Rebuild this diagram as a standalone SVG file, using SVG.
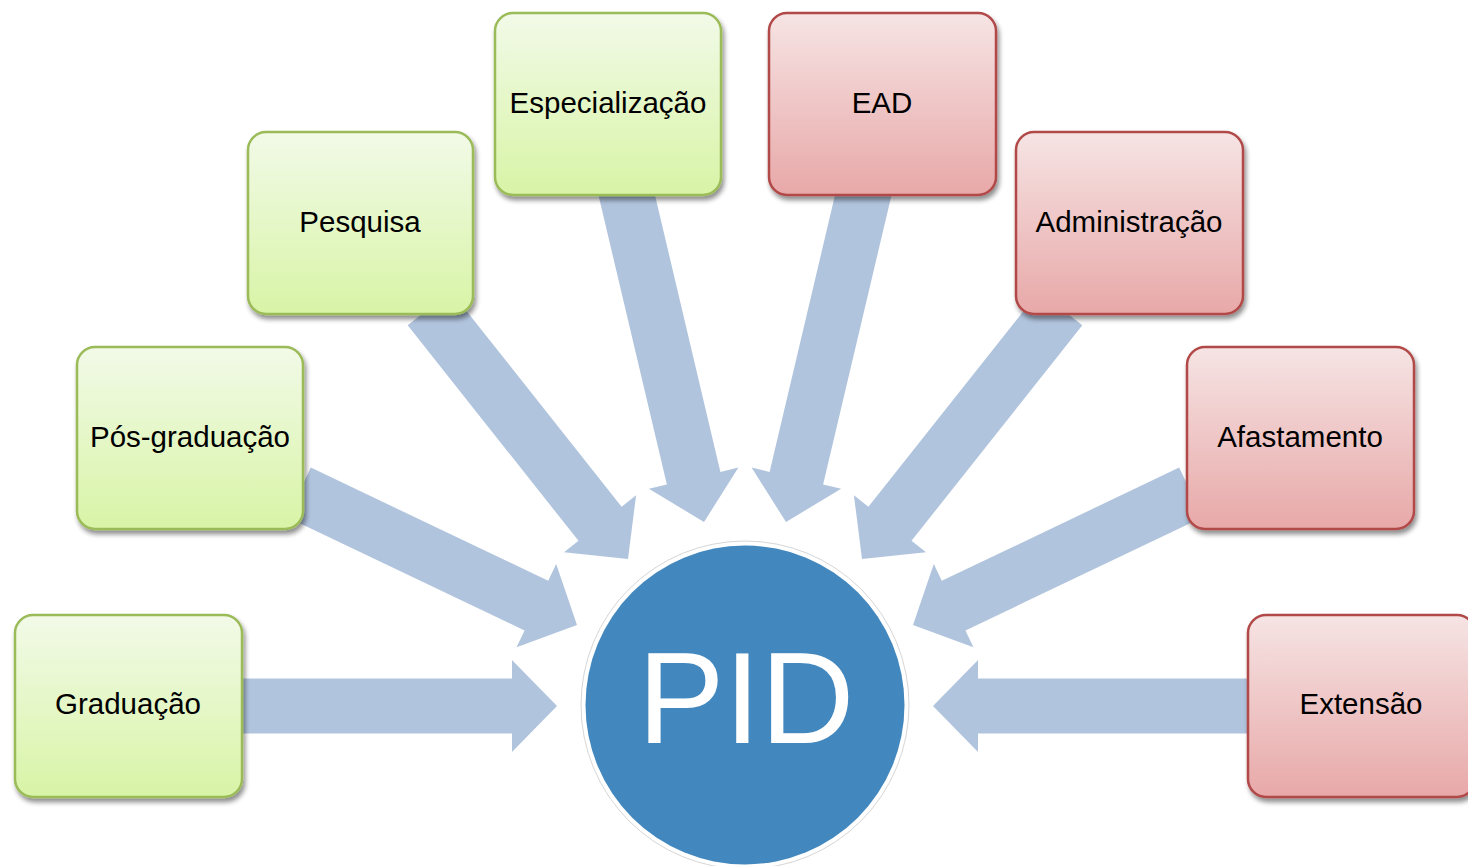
<svg xmlns="http://www.w3.org/2000/svg" width="1468" height="866" viewBox="0 0 1468 866">
<defs>
<linearGradient id="gG" x1="0" y1="0" x2="0" y2="1"><stop offset="0" stop-color="#F2FAE8"/><stop offset="1" stop-color="#D8F4A6"/></linearGradient>
<linearGradient id="gR" x1="0" y1="0" x2="0" y2="1"><stop offset="0" stop-color="#F6E4E4"/><stop offset="1" stop-color="#E8A8A8"/></linearGradient>
<filter id="sh" x="-10%" y="-10%" width="125%" height="125%"><feGaussianBlur in="SourceAlpha" stdDeviation="2.5"/><feOffset dx="2" dy="4" result="b"/><feComponentTransfer><feFuncA type="linear" slope="0.45"/></feComponentTransfer><feMerge><feMergeNode/><feMergeNode in="SourceGraphic"/></feMerge></filter>
<style>
.arr{fill:#B1C4DD}
.g{fill:url(#gG);stroke:#9BBB59;stroke-width:2.5}
.r{fill:url(#gR);stroke:#B24A4A;stroke-width:2.5}
.t{font-family:"Liberation Sans",Arial,sans-serif;font-size:29.5px;fill:#000;text-anchor:middle}
</style>
</defs>
<rect width="1468" height="866" fill="#fff"/>
<g id="connectors">
<polygon class="arr" transform="translate(557,706) rotate(0)" points="-320,-27.5 -45,-27.5 -45,-46 0,0 -45,46 -45,27.5 -320,27.5"/>
<polygon class="arr" transform="translate(577,625) rotate(25.5)" points="-308,-27.5 -45,-27.5 -45,-46 0,0 -45,46 -45,27.5 -308,27.5"/>
<polygon class="arr" transform="translate(628,559) rotate(51.6)" points="-320,-27.5 -45,-27.5 -45,-46 0,0 -45,46 -45,27.5 -320,27.5"/>
<polygon class="arr" transform="translate(704,522) rotate(76.7)" points="-342,-27.5 -45,-27.5 -45,-46 0,0 -45,46 -45,27.5 -342,27.5"/>
<polygon class="arr" transform="translate(786,522) rotate(103.3)" points="-342,-27.5 -45,-27.5 -45,-46 0,0 -45,46 -45,27.5 -342,27.5"/>
<polygon class="arr" transform="translate(862,559) rotate(128.4)" points="-320,-27.5 -45,-27.5 -45,-46 0,0 -45,46 -45,27.5 -320,27.5"/>
<polygon class="arr" transform="translate(913,625) rotate(154.5)" points="-308,-27.5 -45,-27.5 -45,-46 0,0 -45,46 -45,27.5 -308,27.5"/>
<polygon class="arr" transform="translate(933,706) rotate(180)" points="-320,-27.5 -45,-27.5 -45,-46 0,0 -45,46 -45,27.5 -320,27.5"/>
</g>
<g id="graduacao"><rect class="g" filter="url(#sh)" x="15" y="615" width="227" height="182" rx="18"/><text class="t" x="128" y="714">Graduação</text></g>
<g id="posgraduacao"><rect class="g" filter="url(#sh)" x="77" y="347" width="226" height="182" rx="18"/><text class="t" x="190" y="447">Pós-graduação</text></g>
<g id="pesquisa"><rect class="g" filter="url(#sh)" x="248" y="132" width="225" height="182" rx="18"/><text class="t" x="360" y="232">Pesquisa</text></g>
<g id="especializacao"><rect class="g" filter="url(#sh)" x="495" y="13" width="226" height="182" rx="18"/><text class="t" x="608" y="113">Especialização</text></g>
<g id="ead"><rect class="r" filter="url(#sh)" x="769" y="13" width="227" height="182" rx="18"/><text class="t" x="882" y="113">EAD</text></g>
<g id="administracao"><rect class="r" filter="url(#sh)" x="1016" y="132" width="227" height="182" rx="18"/><text class="t" x="1129" y="232">Administração</text></g>
<g id="afastamento"><rect class="r" filter="url(#sh)" x="1187" y="347" width="227" height="182" rx="18"/><text class="t" x="1300" y="447">Afastamento</text></g>
<g id="extensao"><rect class="r" filter="url(#sh)" x="1248" y="615" width="227" height="182" rx="18"/><text class="t" x="1361" y="714">Extensão</text></g>
<g id="pid">
<circle cx="745" cy="705" r="164" fill="#fff" stroke="#d6d6d6" stroke-width="1"/>
<circle cx="745" cy="705" r="159.5" fill="#4287BD"/>
<text x="746" y="743" font-family="'Liberation Sans',Arial,sans-serif" font-size="130" fill="#fff" text-anchor="middle">PID</text>
</g>
</svg>
